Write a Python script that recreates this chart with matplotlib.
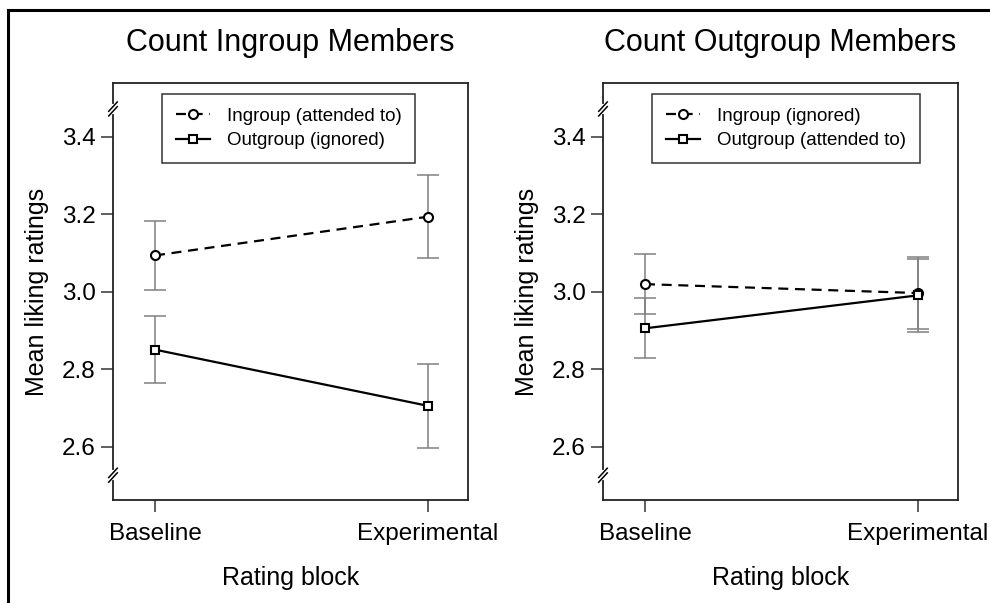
import numpy as np
import matplotlib
matplotlib.use("Agg")
import matplotlib.pyplot as plt
from matplotlib.lines import Line2D

plt.rcParams['font.family'] = ['Liberation Sans', 'DejaVu Sans']

blocks = ["Baseline", "Experimental"]
titles = ["Count Ingroup Members", "Count Outgroup Members"]
ingroup_labels = ["Ingroup (attended to)", "Ingroup (ignored)"]
outgroup_labels = ["Outgroup (ignored)", "Outgroup (attended to)"]

# means and error half-widths, one row per panel
ingroup_mean = [[3.094, 3.194], [3.020, 2.997]]
ingroup_err = [[0.090, 0.107], [0.078, 0.094]]
outgroup_mean = [[2.851, 2.706], [2.906, 2.991]]
outgroup_err = [[0.087, 0.108], [0.077, 0.095]]

yticks = [2.6, 2.8, 3.0, 3.2, 3.4]

fig = plt.figure(figsize=(9.9, 6.03), dpi=100)

# outer frame (top and left only)
fig.add_artist(Line2D([8/990, 1.0], [1-10/603, 1-10/603], color='black', lw=2.2, transform=fig.transFigure))
fig.add_artist(Line2D([8/990, 8/990], [0.0, 1-10/603], color='black', lw=2.2, transform=fig.transFigure))

lefts = [113/990, 603/990]
x = np.array([1, 2])

for i in range(2):
    ax = fig.add_axes([lefts[i], 1-500/603, 355/990, 417/603])

    ax.errorbar(x, ingroup_mean[i], yerr=ingroup_err[i], fmt='none', ecolor='#808080',
                elinewidth=1.1, capsize=8, capthick=1.1, zorder=1)
    ax.errorbar(x, outgroup_mean[i], yerr=outgroup_err[i], fmt='none', ecolor='#808080',
                elinewidth=1.1, capsize=8, capthick=1.1, zorder=1)

    ax.plot(x, ingroup_mean[i], color='black', lw=1.6, ls=(0, (4.5, 3)), marker='o', ms=6.5,
            mfc='white', mec='black', mew=1.5, label=ingroup_labels[i], zorder=3)
    ax.plot(x, outgroup_mean[i], color='black', lw=1.6, ls='-', marker='s', ms=5.5,
            mfc='white', mec='black', mew=1.5, label=outgroup_labels[i], zorder=3)

    ax.set_xlim(0.846, 2.147)
    ax.set_ylim(2.463, 3.539)
    ax.set_xticks(x)
    ax.set_xticklabels(blocks)
    ax.set_yticks(yticks)
    ax.set_yticklabels(["%.1f" % v for v in yticks])
    ax.tick_params(axis='both', labelsize=17.5, length=8.6, width=1.1, direction='out', color='#333333')
    ax.tick_params(axis='x', pad=8)
    ax.tick_params(axis='y', pad=4)
    for s in ax.spines.values():
        s.set_linewidth(1.3)
        s.set_color('#222222')

    ax.set_title(titles[i], fontsize=22, pad=23)
    ax.set_ylabel("Mean liking ratings", fontsize=18, labelpad=9)
    ax.set_xlabel("Rating block", fontsize=18, labelpad=15)

    # axis break marks on the y spine
    for yb in [3.472, 2.527]:
        ax.plot([0, 0], [yb - 0.008, yb + 0.008], color='white', lw=3,
                transform=ax.get_yaxis_transform(), clip_on=False, zorder=5)
        for dy in [-0.006, 0.006]:
            ax.plot([-0.012, 0.012], [yb + dy - 0.012, yb + dy + 0.012], color='black', lw=1.1,
                    transform=ax.get_yaxis_transform(), clip_on=False, zorder=6)

    leg = ax.legend(loc='upper left', bbox_to_anchor=(0.138, 0.974), borderaxespad=0,
                    fontsize=13.5, frameon=True, fancybox=False, handlelength=1.8,
                    handletextpad=0.9, borderpad=0.75, labelspacing=0.38)
    leg.get_frame().set_edgecolor('black')
    leg.get_frame().set_linewidth(1.1)

fig.savefig("out.png", dpi=100)
